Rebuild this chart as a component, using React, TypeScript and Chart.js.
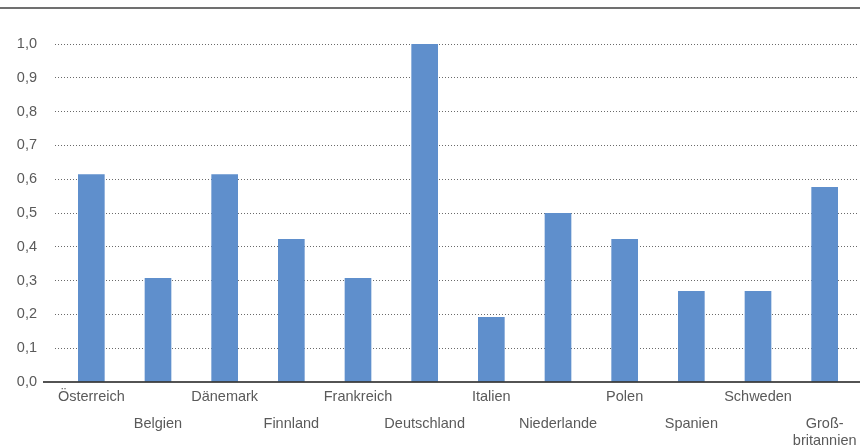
import React, { useEffect, useRef } from "react";
import { Chart, registerables } from "chart.js";

Chart.register(...registerables);

const categories: string[][] = [
  ["Österreich"],
  ["Belgien"],
  ["Dänemark"],
  ["Finnland"],
  ["Frankreich"],
  ["Deutschland"],
  ["Italien"],
  ["Niederlande"],
  ["Polen"],
  ["Spanien"],
  ["Schweden"],
  ["Groß-", "britannien"],
];

const values: number[] = [0.615, 0.308, 0.615, 0.423, 0.308, 1.0, 0.192, 0.5, 0.423, 0.269, 0.269, 0.577];

const yMin = 0;
const yMax = 1.0;
const yStep = 0.1;

const FONT = "'Liberation Sans', Arial, sans-serif";
const TEXT = "#5a5a5a";

const decorPlugin = {
  id: "decor",
  afterDraw(chart: any) {
    const { ctx } = chart;
    const x = chart.scales.x;
    const y = chart.scales.y;
    const y0 = y.getPixelForValue(0);
    ctx.save();
    // top rule
    ctx.fillStyle = "#707070";
    ctx.fillRect(0, 7, chart.width, 2);
    // baseline
    ctx.strokeStyle = "#1a1a1a";
    ctx.lineWidth = 1.5;
    ctx.beginPath();
    ctx.moveTo(43, y0);
    ctx.lineTo(chart.width, y0);
    ctx.stroke();
    // category labels (staggered)
    ctx.fillStyle = TEXT;
    ctx.font = `14.5px ${FONT}`;
    ctx.textAlign = "center";
    ctx.textBaseline = "middle";
    categories.forEach((lines, i) => {
      const px = x.getPixelForValue(i);
      const start = y0 + 15 + (i % 2) * 27;
      lines.forEach((t, j) => ctx.fillText(t, px, start + j * 17));
    });
    ctx.restore();
  },
};

export default function App() {
  const ref = useRef<HTMLCanvasElement>(null);
  useEffect(() => {
    document.body.style.margin = "0";
    const chart = new Chart(ref.current!, {
      type: "bar",
      data: {
        labels: categories.map((c) => c.join("")),
        datasets: [
          {
            data: values,
            backgroundColor: "#5f8fcc",
            borderWidth: 0,
            barPercentage: 0.4,
            categoryPercentage: 1,
          },
        ],
      },
      options: {
        animation: false,
        responsive: false,
        layout: { padding: { top: 44, right: 2, left: 0, bottom: 0 } },
        plugins: { legend: { display: false }, tooltip: { enabled: false } },
        scales: {
          x: {
            grid: { display: false },
            border: { display: false },
            ticks: { display: false },
            afterFit: (s: any) => {
              s.height = 66;
            },
          },
          y: {
            min: yMin,
            max: yMax,
            border: { display: false, dash: [1, 2] },
            grid: {
              drawTicks: true,
              tickLength: 3,
              tickBorderDash: [1, 2],
              color: (c: any) => (c.tick && c.tick.value === 0 ? "rgba(0,0,0,0)" : "#6a6a6a"),
              lineWidth: 1,
            },
            ticks: {
              stepSize: yStep,
              padding: 18,
              color: TEXT,
              font: { family: FONT, size: 14.5 },
              callback: (v: any) => Number(v).toFixed(1).replace(".", ","),
            },
            afterFit: (s: any) => {
              s.width = 58;
            },
          },
        },
      },
      plugins: [decorPlugin],
    });
    return () => chart.destroy();
  }, []);
  return <canvas ref={ref} width={860} height={448} style={{ display: "block" }} />;
}
